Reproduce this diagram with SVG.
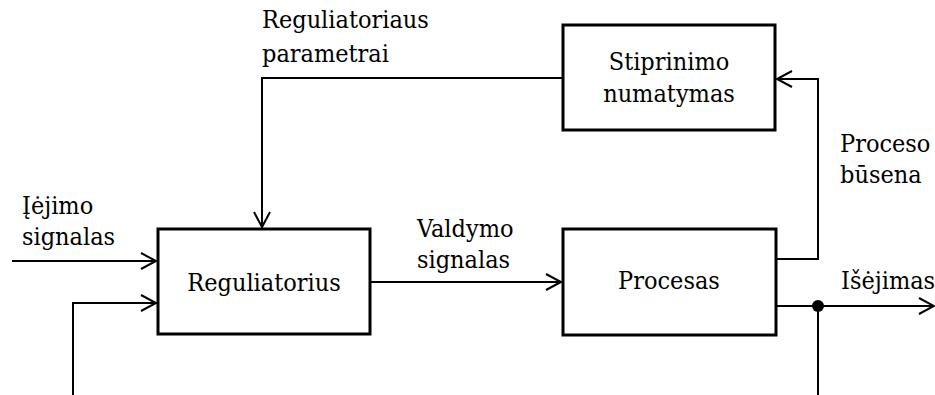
<svg xmlns="http://www.w3.org/2000/svg" width="935" height="395" viewBox="0 0 935 395">
<style>
.box{fill:#fff;stroke:#000;stroke-width:3}
.ln{fill:none;stroke:#000;stroke-width:2}
.t{font-family:'DejaVu Serif Condensed','DejaVu Serif','Liberation Serif',serif;font-stretch:condensed;font-size:25px;fill:#000}
.c{text-anchor:middle}
</style>
<defs>
<marker id="arr" markerUnits="userSpaceOnUse" markerWidth="20" markerHeight="20" refX="16" refY="9" orient="auto" viewBox="0 0 20 18">
<path d="M1,1 L16,9 L1,17" fill="none" stroke="#000" stroke-width="2"/>
</marker>
</defs>
<g id="connectors">
<path class="ln" d="M12,261 H156" marker-end="url(#arr)"/>
<path class="ln" d="M73,395 V303 H156" marker-end="url(#arr)"/>
<path class="ln" d="M562,78 H262 V227" marker-end="url(#arr)"/>
<path class="ln" d="M370,282 H561" marker-end="url(#arr)"/>
<path class="ln" d="M776,259 H818 V79 H777" marker-end="url(#arr)"/>
<path class="ln" d="M776,306 H934" marker-end="url(#arr)"/>
<path class="ln" d="M818,306 V395"/>
<circle cx="818" cy="306" r="6" fill="#000"/>
</g>
<g id="reguliatorius">
<rect class="box" x="158" y="229" width="212" height="105"/>
<text class="t c" x="264" y="291">Reguliatorius</text>
</g>
<g id="stiprinimo">
<rect class="box" x="563" y="25" width="212" height="105"/>
<text class="t c" x="669" y="70">Stiprinimo</text>
<text class="t c" x="669" y="102">numatymas</text>
</g>
<g id="procesas">
<rect class="box" x="563" y="229" width="213" height="106"/>
<text class="t c" x="669" y="289">Procesas</text>
</g>
<g id="labels">
<text class="t" x="262" y="28">Reguliatoriaus</text>
<text class="t" x="262" y="62">parametrai</text>
<text class="t" x="22" y="214">Įėjimo</text>
<text class="t" x="22" y="245">signalas</text>
<text class="t" x="417" y="237">Valdymo</text>
<text class="t" x="417" y="268">signalas</text>
<text class="t" x="840" y="152">Proceso</text>
<text class="t" x="840" y="183">būsena</text>
<text class="t" x="841" y="289">Išėjimas</text>
</g>
</svg>
